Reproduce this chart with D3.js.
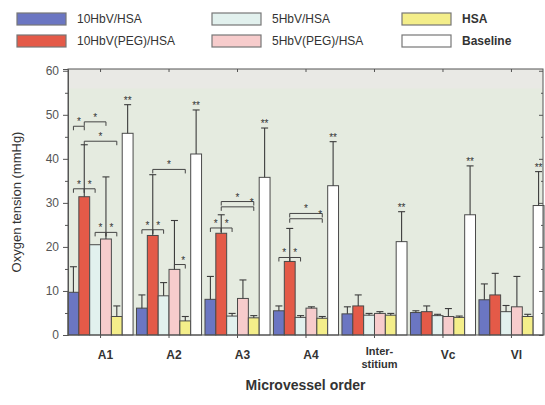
<!DOCTYPE html>
<html>
<head>
<meta charset="utf-8">
<script src="https://cdn.jsdelivr.net/npm/d3@7"></script>
<style>
  body { margin: 0; background: #fff; }
  text { font-family: "Liberation Sans", Arial, sans-serif; }
</style>
</head>
<body>
<svg id="chart" width="545" height="405"></svg>
<script>
// Microvessel groups along the x axis
const categories = ["A1", "A2", "A3", "A4", "Interstitium", "Vc", "Vl"];
const categoryLabels = [["A1"], ["A2"], ["A3"], ["A4"], ["Inter-", "stitium"], ["Vc"], ["Vl"]];

// Series (mean oxygen tension, mmHg) and upper SD
const seriesNames = ["10HbV/HSA", "10HbV(PEG)/HSA", "5HbV/HSA", "5HbV(PEG)/HSA", "HSA", "Baseline"];
const hbv10       = [9.7, 6.1, 8.1, 5.5, 4.8, 5.1, 8.0];
const hbv10Sd     = [5.8, 3.0, 5.2, 1.1, 1.6, 0.4, 3.6];
const hbvPeg10    = [31.4, 22.6, 23.1, 16.7, 6.6, 5.3, 9.1];
const hbvPeg10Sd  = [11.8, 13.8, 4.2, 7.5, 2.5, 1.3, 4.9];
const hbv5        = [20.5, 8.9, 4.3, 4.0, 4.5, 4.4, 5.3];
const hbv5Sd      = [0.0, 3.0, 0.6, 0.4, 0.4, 0.3, 1.4];
const hbvPeg5     = [21.8, 14.9, 8.3, 6.1, 4.9, 4.2, 6.4];
const hbvPeg5Sd   = [14.1, 11.1, 4.2, 0.3, 0.4, 1.8, 6.9];
const hsa         = [4.2, 3.2, 3.9, 3.8, 4.5, 4.0, 4.2];
const hsaSd       = [2.4, 1.0, 0.5, 0.4, 0.4, 0.3, 0.5];
const baseline    = [45.8, 41.1, 35.8, 33.9, 21.2, 27.3, 29.4];
const baselineSd  = [6.5, 10.0, 11.2, 10.0, 6.8, 11.1, 7.7];

const yTicks = [0, 10, 20, 30, 40, 50, 60];

// Significance brackets: group, from series, to series, level (mmHg)
const sigBrackets = [
  { g: 0, a: 0, b: 1, level: 33.2, star: "mid" },
  { g: 0, a: 1, b: 2, level: 33.2, star: "mid" },
  { g: 0, a: 2, b: 3, level: 23.3, star: "mid" },
  { g: 0, a: 3, b: 4, level: 23.3, star: "mid" },
  { g: 0, a: 0, b: 1, level: 47.4, star: "mid" },
  { g: 0, a: 1, b: 3, level: 48.4, star: "mid" },
  { g: 0, a: 1, b: 4, level: 44.0, star: "mid" },
  { g: 1, a: 0, b: 1, level: 23.9, star: "mid" },
  { g: 1, a: 1, b: 2, level: 23.9, star: "mid" },
  { g: 1, a: 1, b: 4, level: 37.6, star: "mid" },
  { g: 1, a: 3, b: 4, level: 16.0, star: "end" },
  { g: 2, a: 0, b: 1, level: 24.3, star: "mid" },
  { g: 2, a: 1, b: 2, level: 24.3, star: "mid" },
  { g: 2, a: 1, b: 4, level: 30.3, star: "mid" },
  { g: 2, a: 1, b: 4, level: 29.1, star: "end" },
  { g: 3, a: 0, b: 1, level: 17.6, star: "mid" },
  { g: 3, a: 1, b: 2, level: 17.6, star: "mid" },
  { g: 3, a: 1, b: 4, level: 27.6, star: "mid" },
  { g: 3, a: 1, b: 4, level: 26.4, star: "end" }
];

const colors = ["#6b76c2", "#e45a48", "#e2f1ee", "#f7cccc", "#f4ee8a", "#ffffff"];
const means = [hbv10, hbvPeg10, hbv5, hbvPeg5, hsa, baseline];
const sds = [hbv10Sd, hbvPeg10Sd, hbv5Sd, hbvPeg5Sd, hsaSd, baselineSd];

const rows = categories.map((c, i) => ({
  cat: c,
  bars: seriesNames.map((s, k) => ({ key: s, k, value: means[k][i], sd: sds[k][i] }))
}));

const svg = d3.select("#chart");
const plotL = 68, plotR = 543, plotT = 69, plotB = 335;

const x0 = d3.scaleBand().domain(categories).range([plotL, plotR + 1]).paddingInner(0.05).paddingOuter(0);
const x1 = d3.scaleBand().domain(seriesNames).range([0, x0.bandwidth()]).padding(0);
const y = d3.scaleLinear().domain([0, 60.4]).range([plotB, plotT]);

// plot background
svg.append("rect").attr("x", plotL).attr("y", plotT).attr("width", plotR - plotL).attr("height", plotB - plotT)
  .attr("fill", "#e5ebe0");
svg.append("rect").attr("x", plotL).attr("y", plotT).attr("width", plotR - plotL).attr("height", y(56) - plotT)
  .attr("fill", "#e9e9e5");

// bars
const groups = svg.append("g").selectAll("g").data(rows).join("g")
  .attr("transform", d => `translate(${x0(d.cat)},0)`);

groups.selectAll("rect").data(d => d.bars).join("rect")
  .attr("x", d => x1(d.key))
  .attr("y", d => y(d.value))
  .attr("width", x1.bandwidth())
  .attr("height", d => y(0) - y(d.value))
  .attr("fill", d => colors[d.k])
  .attr("stroke", "#4a4a4a")
  .attr("stroke-width", 1);

// error bars (upper SD)
const eb = groups.selectAll("g.err").data(d => d.bars.filter(b => b.sd > 0)).join("g").attr("class", "err")
  .attr("stroke", "#3c3c3c").attr("stroke-width", 1.1);
eb.append("line")
  .attr("x1", d => x1(d.key) + x1.bandwidth() / 2).attr("x2", d => x1(d.key) + x1.bandwidth() / 2)
  .attr("y1", d => y(d.value)).attr("y2", d => y(d.value + d.sd));
eb.append("line")
  .attr("x1", d => x1(d.key) + x1.bandwidth() / 2 - 3.5).attr("x2", d => x1(d.key) + x1.bandwidth() / 2 + 3.5)
  .attr("y1", d => y(d.value + d.sd)).attr("y2", d => y(d.value + d.sd));

// "**" over baseline bars
groups.append("text")
  .attr("x", x1("Baseline") + x1.bandwidth() / 2)
  .attr("y", (d, i) => y(baseline[i] + baselineSd[i]) - 1)
  .attr("text-anchor", "middle").attr("font-size", 10).attr("fill", "#333")
  .text("**");

// significance brackets
const cx = (g, k) => x0(categories[g]) + x1(seriesNames[k]) + x1.bandwidth() / 2;
const sg = svg.append("g").attr("stroke", "#444").attr("stroke-width", 1).attr("fill", "none");
sigBrackets.forEach(b => {
  const xa = cx(b.g, b.a), xb = cx(b.g, b.b), yy = y(b.level);
  sg.append("path").attr("d", `M${xa},${yy + 4}V${yy}H${xb}V${yy + 4}`);
  svg.append("text")
    .attr("x", b.star === "mid" ? (xa + xb) / 2 : xb - 2)
    .attr("y", yy - 1).attr("text-anchor", "middle")
    .attr("font-size", 10).attr("fill", "#333").text("*");
});

// frame
svg.append("rect").attr("x", plotL).attr("y", plotT).attr("width", plotR - plotL).attr("height", plotB - plotT)
  .attr("fill", "none").attr("stroke", "#555").attr("stroke-width", 1);

// left axis
const yAxis = svg.append("g").attr("transform", `translate(${plotL},0)`)
  .call(d3.axisLeft(y).tickValues(yTicks).tickSize(5).tickPadding(4).tickFormat(d3.format("d")));
yAxis.select(".domain").attr("stroke", "#555");
yAxis.selectAll(".tick line").attr("stroke", "#555");
yAxis.selectAll("text").attr("font-size", 12).attr("fill", "#555");
svg.append("g").attr("transform", `translate(${plotL},0)`)
  .call(d3.axisLeft(y).tickValues([5, 15, 25, 35, 45, 55]).tickSize(3).tickFormat(""))
  .call(g => g.select(".domain").remove())
  .selectAll(".tick line").attr("stroke", "#555");

// right axis ticks (inward)
svg.append("g").attr("transform", `translate(${plotR},0)`)
  .call(d3.axisLeft(y).tickValues(yTicks).tickSize(4).tickFormat(""))
  .call(g => g.select(".domain").remove())
  .selectAll(".tick line").attr("stroke", "#555");
svg.append("g").attr("transform", `translate(${plotR},0)`)
  .call(d3.axisLeft(y).tickValues([5, 15, 25, 35, 45, 55]).tickSize(2).tickFormat(""))
  .call(g => g.select(".domain").remove())
  .selectAll(".tick line").attr("stroke", "#555");

// top and bottom ticks at group centres
svg.append("g").attr("transform", `translate(0,${plotT})`)
  .call(d3.axisBottom(x0).tickSize(3).tickFormat(""))
  .call(g => g.select(".domain").remove())
  .selectAll(".tick line").attr("stroke", "#555");
svg.append("g").attr("transform", `translate(0,${plotB})`)
  .call(d3.axisBottom(x0).tickSize(3).tickFormat(""))
  .call(g => g.select(".domain").remove())
  .selectAll(".tick line").attr("stroke", "#555");

// category labels
categories.forEach((c, i) => {
  const two = categoryLabels[i].length > 1;
  const lx = x0(c) + x0.bandwidth() / 2 + 5;
  const t = svg.append("text")
    .attr("x", lx).attr("y", two ? 355 : 359)
    .attr("text-anchor", "middle").attr("fill", "#333").attr("font-weight", "bold");
  categoryLabels[i].forEach((line, j) => {
    t.append("tspan").attr("x", lx).attr("dy", j === 0 ? 0 : 13)
      .attr("font-size", two ? 11 : 12)
      .text(line);
  });
});

// axis titles
svg.append("text").attr("x", (plotL + plotR) / 2).attr("y", 390)
  .attr("text-anchor", "middle").attr("font-size", 14).attr("font-weight", "bold").attr("fill", "#333")
  .text("Microvessel order");
svg.append("text").attr("transform", `translate(21,${(plotT + plotB) / 2}) rotate(-90)`)
  .attr("text-anchor", "middle").attr("font-size", 13).attr("fill", "#333")
  .text("Oxygen tension (mmHg)");

// legend
const legendCols = [17, 212, 402];
const legendRows = [13, 35];
const legendOrder = [0, 2, 4, 1, 3, 5];
seriesNames.forEach((s, k) => {
  const pos = legendOrder.indexOf(k);
  const lx = legendCols[pos % 3], ly = legendRows[Math.floor(pos / 3)];
  svg.append("rect").attr("x", lx).attr("y", ly).attr("width", 49).attr("height", 12)
    .attr("fill", colors[k]).attr("stroke", "#777").attr("stroke-width", 1.2);
  svg.append("text").attr("x", lx + 60).attr("y", ly + 10)
    .attr("font-size", 12).attr("fill", "#333")
    .attr("font-weight", s === "Baseline" || s === "HSA" ? "bold" : "normal")
    .text(s);
});
</script>
</body>
</html>
